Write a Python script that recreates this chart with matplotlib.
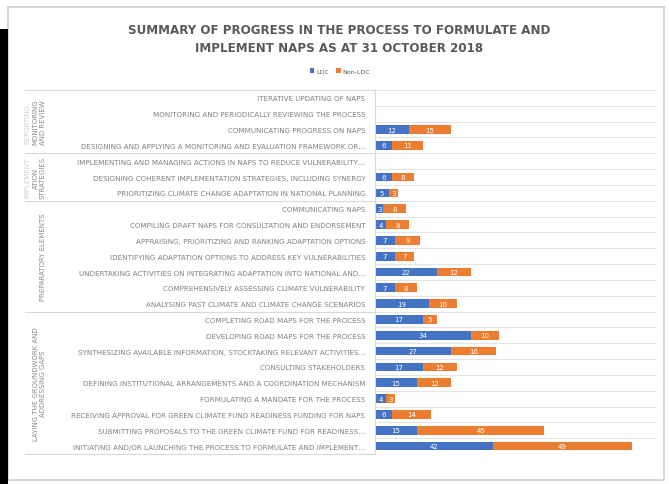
import numpy as np
import matplotlib
matplotlib.use("Agg")
import matplotlib.pyplot as plt
from matplotlib.patches import Rectangle

categories = [
    "ITERATIVE UPDATING OF NAPS",
    "MONITORING AND PERIODICALLY REVIEWING THE PROCESS",
    "COMMUNICATING PROGRESS ON NAPS",
    "DESIGNING AND APPLYING A MONITORING AND EVALUATION FRAMEWORK OR\u2026",
    "IMPLEMENTING AND MANAGING ACTIONS IN NAPS TO REDUCE VULNERABILITY\u2026",
    "DESIGNING COHERENT IMPLEMENTATION STRATEGIES, INCLUDING SYNERGY",
    "PRIORITIZING CLIMATE CHANGE ADAPTATION IN NATIONAL PLANNING",
    "COMMUNICATING NAPS",
    "COMPILING DRAFT NAPS FOR CONSULTATION AND ENDORSEMENT",
    "APPRAISING, PRIORITIZING AND RANKING ADAPTATION OPTIONS",
    "IDENTIFYING ADAPTATION OPTIONS TO ADDRESS KEY VULNERABILITIES",
    "UNDERTAKING ACTIVITIES ON INTEGRATING ADAPTATION INTO NATIONAL AND\u2026",
    "COMPREHENSIVELY ASSESSING CLIMATE VULNERABILITY",
    "ANALYSING PAST CLIMATE AND CLIMATE CHANGE SCENARIOS",
    "COMPLETING ROAD MAPS FOR THE PROCESS",
    "DEVELOPING ROAD MAPS FOR THE PROCESS",
    "SYNTHESIZING AVAILABLE INFORMATION, STOCKTAKING RELEVANT ACTIVITIES\u2026",
    "CONSULTING STAKEHOLDERS",
    "DEFINING INSTITUTIONAL ARRANGEMENTS AND A COORDINATION MECHANISM",
    "FORMULATING A MANDATE FOR THE PROCESS",
    "RECEIVING APPROVAL FOR GREEN CLIMATE FUND READINESS FUNDING FOR NAPS",
    "SUBMITTING PROPOSALS TO THE GREEN CLIMATE FUND FOR READINESS\u2026",
    "INITIATING AND/OR LAUNCHING THE PROCESS TO FORMULATE AND IMPLEMENT\u2026",
]
ldc = [0, 0, 12, 6, 0, 6, 5, 3, 4, 7, 7, 22, 7, 19, 17, 34, 27, 17, 15, 4, 6, 15, 42]
non_ldc = [0, 0, 15, 11, 0, 8, 3, 8, 8, 9, 7, 12, 8, 10, 5, 10, 16, 12, 12, 3, 14, 45, 49]

# group names: (faint clipped first line, visible lines)
group_heads = ["REPORTING,", "IMPLEMENT", "", ""]
group_lines = ["MONITORING\nAND REVIEW",
               "ATION\nSTRATEGIES",
               "PREPARATORY ELEMENTS",
               "LAYING THE GROUNDWORK AND\nADDRESSING GAPS"]
group_sizes = [4, 3, 7, 9]

blue = '#4472C4'
orange = '#ED7D31'
grey = '#595959'

W, H = 669, 485
fig = plt.figure(figsize=(W / 100, H / 100), dpi=100)

# chart frame + dark strip from the screenshot
fig.patches.append(Rectangle((8 / W, 4 / H), 656 / W, 473 / H, transform=fig.transFigure,
                             fill=False, ec='#d0d0d0', lw=1.2))
fig.patches.append(Rectangle((0, 0), 8 / W, (H - 30) / H, transform=fig.transFigure,
                             fc='black', ec='none'))

x0, x1, ytop, ybot = 375, 657, 91, 455
ax = fig.add_axes([x0 / W, 1 - ybot / H, (x1 - x0) / W, (ybot - ytop) / H])

n = len(categories)
y = np.arange(n)
ax.barh(y, ldc, height=0.55, color=blue, label='LDC')
ax.barh(y, non_ldc, left=ldc, height=0.55, color=orange, label='Non-LDC')

for i in range(n):
    if ldc[i] > 0:
        ax.text(ldc[i] / 2, i, str(ldc[i]), ha='center', va='center', color='white', fontsize=5)
    if non_ldc[i] > 0:
        ax.text(ldc[i] + non_ldc[i] / 2, i, str(non_ldc[i]), ha='center', va='center',
                color='white', fontsize=5)

ax.set_xlim(0, 100)
ax.set_ylim(n - 0.5, -0.5)
ax.set_xticks([])
ax.set_yticks(y)
ax.set_yticklabels(categories, fontsize=5.1, color='#7f7f7f')
ax.tick_params(axis='y', length=0, pad=7)
for s in ['top', 'right', 'bottom']:
    ax.spines[s].set_visible(False)
ax.spines['left'].set_color('#d9d9d9')
ax.spines['left'].set_linewidth(0.8)

# row separators
for b in np.arange(-0.5, n, 1.0):
    ax.axhline(b, color='#e3e3e3', lw=0.8, zorder=0)

# group separators and labels
def px_to_ax(px):
    return (px - x0) / (x1 - x0)

tr = ax.get_yaxis_transform()
bounds = np.concatenate([[0], np.cumsum(group_sizes)]) - 0.5
for b in bounds:
    ax.plot([px_to_ax(25), 0], [b, b], transform=tr, color='#d9d9d9', lw=0.8, clip_on=False)
for k in range(len(group_lines)):
    mid = (bounds[k] + bounds[k + 1]) / 2
    ax.text(px_to_ax(46), mid, group_lines[k], transform=tr, rotation=90, ha='right',
            va='center', multialignment='center', fontsize=5, color='#8c8c8c', linespacing=1.25)
    if group_heads[k]:
        ax.text(px_to_ax(30), mid, group_heads[k], transform=tr, rotation=90, ha='right',
                va='center', fontsize=5, color='#cfcfcf')

fig.text(339 / W, 1 - 40 / H,
         "SUMMARY OF PROGRESS IN THE PROCESS TO FORMULATE AND\nIMPLEMENT NAPS AS AT 31 OCTOBER 2018",
         ha='center', va='center', fontsize=8.6, fontweight='bold', color=grey, linespacing=1.5)

fig.legend(loc='center', bbox_to_anchor=(340 / W, 1 - 72 / H), ncol=2, frameon=False,
           fontsize=4.5, handlelength=0.7, handleheight=0.7, columnspacing=1.2,
           handletextpad=0.3, labelcolor='#595959')

fig.savefig('out.png', dpi=100)
